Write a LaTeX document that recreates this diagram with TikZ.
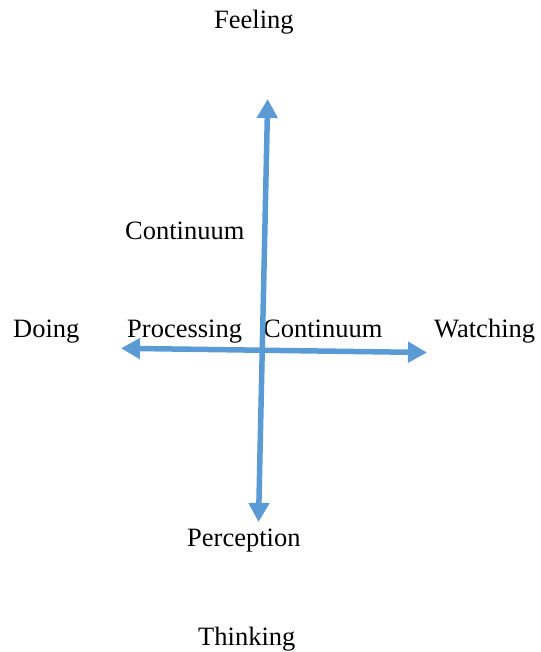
\documentclass[tikz,border=0pt]{standalone}
\usepackage{fontspec}
\setmainfont{Liberation Serif}
\usetikzlibrary{arrows.meta}
\definecolor{axisblue}{HTML}{5B9BD5}
\begin{document}
\begin{tikzpicture}[x=1pt,y=-1pt,
  lbl/.style={anchor=base west,inner sep=0pt,font=\fontsize{26.5}{30}\selectfont},
  axis/.style={line width=5.5pt,draw=axisblue,{Triangle[length=19pt,width=20pt]}-{Triangle[length=19pt,width=20pt]}}]
\useasboundingbox (0,0) rectangle (540,652);
\node[lbl] (feel) at (214,28.5) {Feeling};
\node[lbl] (cont1) at (125,239) {Continuum};
\node[lbl] (doing) at (13,337) {Doing};
\node[lbl] (proc) at (127,337) {Processing};
\node[lbl] (cont2) at (263,337) {Continuum};
\node[lbl] (watch) at (434,337) {Watching};
\node[lbl] (perc) at (187,546) {Perception};
\node[lbl] (think) at (198,645) {Thinking};
\coordinate (top) at (267.7,99);
\coordinate (bot) at (258.5,522);
\coordinate (left) at (121,348.3);
\coordinate (right) at (427,352.5);
\draw[axis] (bot) -- (top);
\draw[axis] (left) -- (right);
\end{tikzpicture}
\end{document}
